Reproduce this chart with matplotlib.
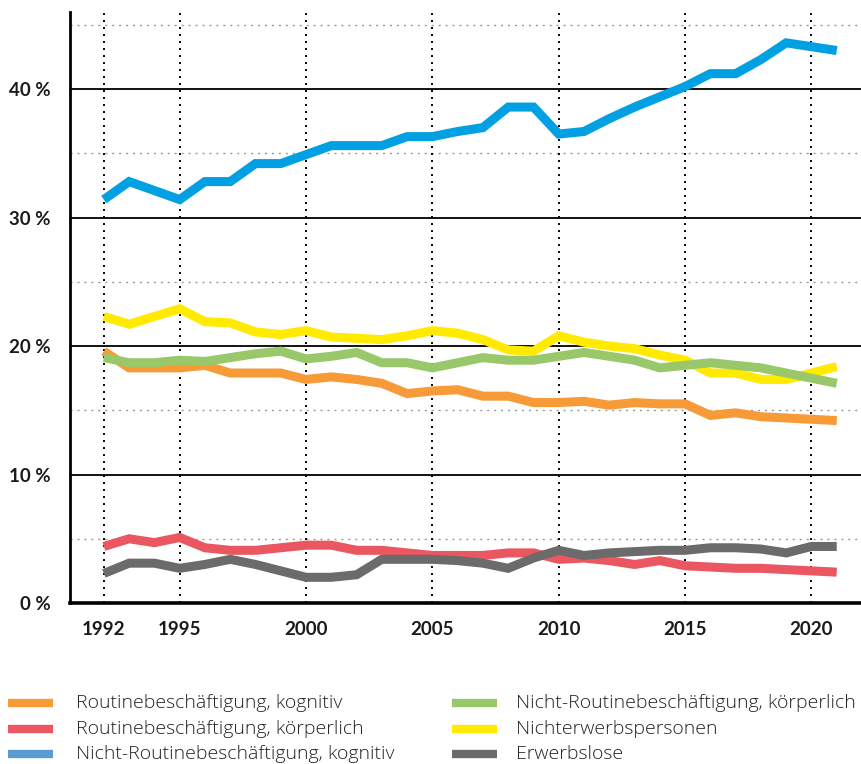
import matplotlib
matplotlib.use("Agg")
import matplotlib.pyplot as plt
from matplotlib.lines import Line2D

years = list(range(1992, 2022))

routine_kognitiv = [19.6, 18.3, 18.3, 18.3, 18.5, 17.9, 17.9, 17.9, 17.4, 17.6,
                    17.4, 17.1, 16.3, 16.5, 16.6, 16.1, 16.1, 15.6, 15.6, 15.7,
                    15.4, 15.6, 15.5, 15.5, 14.6, 14.8, 14.5, 14.4, 14.3, 14.2]
routine_koerperlich = [4.4, 5.0, 4.7, 5.1, 4.3, 4.1, 4.1, 4.3, 4.5, 4.5,
                       4.1, 4.1, 3.9, 3.7, 3.7, 3.7, 3.9, 3.9, 3.4, 3.5,
                       3.3, 3.0, 3.3, 2.9, 2.8, 2.7, 2.7, 2.6, 2.5, 2.4]
nicht_routine_kognitiv = [31.4, 32.8, 32.1, 31.4, 32.8, 32.8, 34.2, 34.2, 34.9, 35.6,
                          35.6, 35.6, 36.3, 36.3, 36.7, 37.0, 38.6, 38.6, 36.5, 36.7,
                          37.7, 38.6, 39.4, 40.2, 41.2, 41.2, 42.3, 43.6, 43.3, 43.0]
nicht_routine_koerperlich = [19.1, 18.7, 18.7, 18.9, 18.8, 19.1, 19.4, 19.6, 19.0, 19.2,
                             19.5, 18.7, 18.7, 18.3, 18.7, 19.1, 18.9, 18.9, 19.2, 19.5,
                             19.2, 18.9, 18.3, 18.5, 18.7, 18.5, 18.3, 17.9, 17.5, 17.1]
nichterwerbspersonen = [22.3, 21.7, 22.3, 22.9, 21.9, 21.8, 21.1, 20.9, 21.2, 20.7,
                        20.6, 20.5, 20.8, 21.2, 21.0, 20.5, 19.7, 19.6, 20.8, 20.3,
                        20.0, 19.8, 19.3, 18.9, 17.9, 17.9, 17.4, 17.4, 17.9, 18.4]
erwerbslose = [2.3, 3.1, 3.1, 2.7, 3.0, 3.4, 3.0, 2.5, 2.0, 2.0,
               2.2, 3.4, 3.4, 3.4, 3.3, 3.1, 2.7, 3.5, 4.1, 3.7,
               3.9, 4.0, 4.1, 4.1, 4.3, 4.3, 4.2, 3.9, 4.4, 4.4]

labels = ["Routinebeschäftigung, kognitiv",
          "Routinebeschäftigung, körperlich",
          "Nicht-Routinebeschäftigung, kognitiv",
          "Nicht-Routinebeschäftigung, körperlich",
          "Nichterwerbspersonen",
          "Erwerbslose"]

x_ticks = [1992, 1995, 2000, 2005, 2010, 2015, 2020]
y_ticks = [0, 10, 20, 30, 40]
y_tick_labels = ["0 %", "10 %", "20 %", "30 %", "40 %"]
y_minor = [5, 15, 25, 35, 45]

c_orange = "#f79a38"
c_red = "#eb5760"
c_blue = "#00a0e3"
c_blue_legend = "#5b9bd5"
c_green = "#98c86a"
c_yellow = "#ffea00"
c_gray = "#6b6b6b"

plt.rcParams['font.family'] = ['Lato', 'DejaVu Sans']

fig = plt.figure(figsize=(8.62, 7.64), dpi=100)
ax = fig.add_axes([70/862, 1 - 603/764, 1 - 70/862, (603 - 12)/764])

ax.set_xlim(1990.66, 2022.0)
ax.set_ylim(0, 46.0)

# grid
for v in y_ticks[1:]:
    ax.axhline(v, color="black", lw=1.3, zorder=1)
for v in y_minor:
    ax.axhline(v, color="#999999", lw=1.0, ls=(0, (1.5, 3.5)), zorder=1)
for v in x_ticks:
    ax.axvline(v, color="black", lw=1.4, ls=(0, (1, 2.6)), zorder=1)

lw = 6.5
kw = dict(lw=lw, solid_capstyle="butt", solid_joinstyle="miter", zorder=3)
ax.plot(years, nicht_routine_kognitiv, color=c_blue, **kw)
ax.plot(years, routine_kognitiv, color=c_orange, **kw)
ax.plot(years, nichterwerbspersonen, color=c_yellow, **kw)
ax.plot(years, nicht_routine_koerperlich, color=c_green, **kw)
ax.plot(years, routine_koerperlich, color=c_red, **kw)
ax.plot(years, erwerbslose, color=c_gray, **kw)

for s in ["top", "right"]:
    ax.spines[s].set_visible(False)
ax.spines["left"].set_linewidth(2.0)
ax.spines["bottom"].set_linewidth(2.6)

ax.set_xticks(x_ticks)
ax.set_xticklabels([str(v) for v in x_ticks], fontsize=13.5, fontweight="bold")
ax.set_yticks(y_ticks)
ax.set_yticklabels(y_tick_labels, fontsize=13.5, fontweight="bold")
ax.tick_params(axis="both", length=0, colors="#1a1a1a")
ax.tick_params(axis="y", pad=14)
ax.tick_params(axis="x", pad=13)

# legend (manual)
colors_legend = [c_orange, c_red, c_blue_legend, c_green, c_yellow, c_gray]
rows = [703, 729, 754]
cols = [(8, 53, 76), (452, 497, 516)]
for i, (lab, col) in enumerate(zip(labels, colors_legend)):
    c = cols[i // 3]
    r = rows[i % 3]
    yf = 1 - r / 764
    fig.add_artist(Line2D([c[0] / 862, c[1] / 862], [yf, yf], color=col, lw=6,
                          solid_capstyle="butt", transform=fig.transFigure))
    fig.text(c[2] / 862, yf, lab, fontsize=14, fontweight="light",
             family=["Open Sans", "DejaVu Sans"],
             color="#222222", va="center", ha="left")

fig.savefig("out.png", dpi=100)
